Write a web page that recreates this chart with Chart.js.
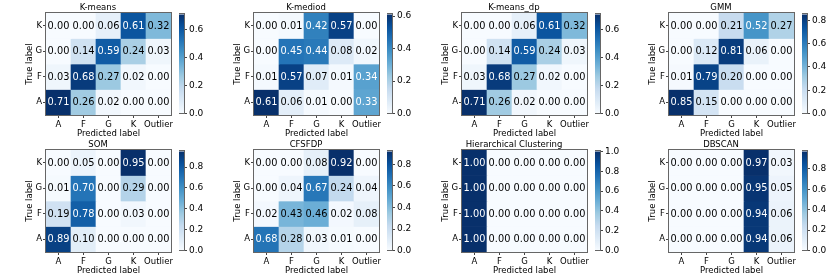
<!DOCTYPE html>
<html>
<head>
<meta charset="utf-8">
<script src="https://cdn.jsdelivr.net/npm/chart.js@4"></script>
<style>
  body { margin: 0; background: #fff; }
  #wrap { position: relative; width: 834px; height: 278px; overflow: hidden; }
  canvas { position: absolute; }
</style>
</head>
<body>
<div id="wrap"></div>
<script>
// confusion matrices, rows = true label (K, G, F, A top to bottom), cols = predicted label
const predLabels = ["A", "F", "G", "K", "Outlier"];
const trueLabels = ["K", "G", "F", "A"];
const titles = ["K-means", "K-mediod", "K-means_dp", "GMM", "SOM", "CFSFDP", "Hierarchical Clustering", "DBSCAN"];

const kmeans = [
    [0.00, 0.00, 0.06, 0.61, 0.32],
    [0.00, 0.14, 0.59, 0.24, 0.03],
    [0.03, 0.68, 0.27, 0.02, 0.00],
    [0.71, 0.26, 0.02, 0.00, 0.00]
];
const kmediod = [
    [0.00, 0.01, 0.42, 0.57, 0.00],
    [0.00, 0.45, 0.44, 0.08, 0.02],
    [0.01, 0.57, 0.07, 0.01, 0.34],
    [0.61, 0.06, 0.01, 0.00, 0.33]
];
const kmeansDp = [
    [0.00, 0.00, 0.06, 0.61, 0.32],
    [0.00, 0.14, 0.59, 0.24, 0.03],
    [0.03, 0.68, 0.27, 0.02, 0.00],
    [0.71, 0.26, 0.02, 0.00, 0.00]
];
const gmm = [
    [0.00, 0.00, 0.21, 0.52, 0.27],
    [0.00, 0.12, 0.81, 0.06, 0.00],
    [0.01, 0.79, 0.20, 0.00, 0.00],
    [0.85, 0.15, 0.00, 0.00, 0.00]
];
const som = [
    [0.00, 0.05, 0.00, 0.95, 0.00],
    [0.01, 0.70, 0.00, 0.29, 0.00],
    [0.19, 0.78, 0.00, 0.03, 0.00],
    [0.89, 0.10, 0.00, 0.00, 0.00]
];
const cfsfdp = [
    [0.00, 0.00, 0.08, 0.92, 0.00],
    [0.00, 0.04, 0.67, 0.24, 0.04],
    [0.02, 0.43, 0.46, 0.02, 0.08],
    [0.68, 0.28, 0.03, 0.01, 0.00]
];
const hierarchical = [
    [1.00, 0.00, 0.00, 0.00, 0.00],
    [1.00, 0.00, 0.00, 0.00, 0.00],
    [1.00, 0.00, 0.00, 0.00, 0.00],
    [1.00, 0.00, 0.00, 0.00, 0.00]
];
const dbscan = [
    [0.00, 0.00, 0.00, 0.97, 0.03],
    [0.00, 0.00, 0.00, 0.95, 0.05],
    [0.00, 0.00, 0.00, 0.94, 0.06],
    [0.00, 0.00, 0.00, 0.94, 0.06]
];
const matrices = [kmeans, kmediod, kmeansDp, gmm, som, cfsfdp, hierarchical, dbscan];

// colorbar tick labels per panel
const cbTicks = [
    [0, 0.2, 0.4, 0.6],
    [0, 0.2, 0.4, 0.6],
    [0, 0.2, 0.4, 0.6],
    [0, 0.2, 0.4, 0.6, 0.8],
    [0, 0.2, 0.4, 0.6, 0.8],
    [0, 0.2, 0.4, 0.6, 0.8],
    [0, 0.2, 0.4, 0.6, 0.8, 1.0],
    [0, 0.2, 0.4, 0.6, 0.8]
];

// layout
const heatLeft = [46, 254, 462, 669];
const heatTop = [13, 150];
const heatW = 125, heatH = 102;
const yAxisW = 21, xAxisH = 24, titleH = 13;
const FONT = "'DejaVu Sans', sans-serif";
const FRAME = "#666";

// matplotlib "Blues"
const BLUES = ["#f7fbff", "#deebf7", "#c6dbef", "#9ecae1", "#6baed6", "#4292c6", "#2171b5", "#08519c", "#08306b"];

function hexRgb(h) {
    return [1, 3, 5].map(i => parseInt(h.substr(i, 2), 16));
}

function blues(t) {
    t = Math.max(0, Math.min(1, t));
    const s = t * (BLUES.length - 1);
    const i = Math.min(Math.floor(s), BLUES.length - 2);
    const f = s - i;
    const a = hexRgb(BLUES[i]), b = hexRgb(BLUES[i + 1]);
    const c = a.map((v, k) => Math.round(v + (b[k] - v) * f));
    return "rgb(" + c.join(",") + ")";
}

const cellText = {
    id: "cellText",
    afterDatasetsDraw(chart) {
        const ctx = chart.ctx;
        ctx.save();
        ctx.font = "9.8px " + FONT;
        ctx.textAlign = "center";
        ctx.textBaseline = "middle";
        chart.data.datasets.forEach((ds, i) => {
            chart.getDatasetMeta(i).data.forEach((el, j) => {
                const p = el.getCenterPoint();
                const v = ds.values[j];
                ctx.fillStyle = v > ds.vmax / 2 ? "#fff" : "#000";
                ctx.fillText(v.toFixed(2), p.x, p.y + 0.5);
            });
        });
        ctx.restore();
    }
};

const frame = {
    id: "frame",
    afterDraw(chart) {
        const a = chart.chartArea;
        const ctx = chart.ctx;
        ctx.save();
        ctx.strokeStyle = FRAME;
        ctx.lineWidth = 1;
        ctx.strokeRect(Math.round(a.left) - 0.5, Math.round(a.top) - 0.5,
            Math.round(a.right - a.left) + 1, Math.round(a.bottom - a.top) + 1);
        ctx.restore();
    }
};

function makeCanvas(x, y, w, h) {
    const c = document.createElement("canvas");
    c.width = w;
    c.height = h;
    c.style.left = x + "px";
    c.style.top = y + "px";
    document.getElementById("wrap").appendChild(c);
    return c.getContext("2d");
}

function drawHeatmap(k) {
    const col = k % 4, row = Math.floor(k / 4);
    const m = matrices[k];
    const vmax = Math.max(...m.flat());
    const x0 = heatLeft[col] - yAxisW, y0 = heatTop[row] - titleH;
    const ctx = makeCanvas(x0, y0, yAxisW + heatW + yAxisW, titleH + heatH + xAxisH);

    const datasets = m.map((vals, i) => ({
        data: vals.map(() => [i, i + 1]),
        values: vals,
        vmax: vmax,
        backgroundColor: vals.map(v => blues(v / vmax)),
        borderWidth: 0,
        grouped: false,
        barPercentage: 1,
        categoryPercentage: 1
    }));

    new Chart(ctx, {
        type: "bar",
        data: { labels: predLabels, datasets: datasets },
        options: {
            responsive: false,
            animation: false,
            layout: { padding: { left: 0, right: yAxisW, top: 0, bottom: 0 } },
            plugins: {
                legend: { display: false },
                tooltip: { enabled: false },
                title: {
                    display: true,
                    text: titles[k],
                    color: "#000",
                    font: { family: FONT, size: 8.5, weight: "normal" },
                    padding: { top: 2.2, bottom: 0.6 }
                }
            },
            scales: {
                x: {
                    type: "category",
                    afterFit: s => { s.height = xAxisH; },
                    border: { display: false },
                    grid: { offset: false, drawOnChartArea: false, drawTicks: true, tickLength: 3, color: "#444" },
                    ticks: { color: "#000", padding: 1.5, maxRotation: 0, autoSkip: false, font: { family: FONT, size: 8.5 } },
                    title: { display: true, text: "Predicted label", color: "#000", padding: { top: 0, bottom: 0 }, font: { family: FONT, size: 8.5 } }
                },
                y: {
                    type: "linear",
                    min: 0,
                    max: trueLabels.length,
                    reverse: true,
                    afterFit: s => { s.width = yAxisW; },
                    afterBuildTicks: s => { s.ticks = trueLabels.map((_, i) => ({ value: i + 0.5 })); },
                    border: { display: false },
                    grid: { drawOnChartArea: false, drawTicks: true, tickLength: 3, color: "#444" },
                    ticks: { color: "#000", padding: 1, font: { family: FONT, size: 8.5 }, callback: (v, i) => trueLabels[i] },
                    title: { display: true, text: "True label", color: "#000", padding: { top: 0, bottom: 0 }, font: { family: FONT, size: 8.5 } }
                }
            }
        },
        plugins: [cellText, frame]
    });

    drawColorbar(k, vmax, heatLeft[col] + heatW + 8, heatTop[row]);
}

function drawColorbar(k, vmax, x, y) {
    const pad = 6, barW = 5, axisW = 36;
    const ctx = makeCanvas(x, y - pad, barW + axisW, heatH + pad * 2);
    const ticks = cbTicks[k];

    new Chart(ctx, {
        type: "bar",
        data: {
            labels: [""],
            datasets: [{
                data: [[0, vmax]],
                borderWidth: 0,
                barPercentage: 1,
                categoryPercentage: 1,
                backgroundColor: c => {
                    const ch = c.chart;
                    if (!ch.chartArea) return BLUES[0];
                    const ys = ch.scales.y;
                    const g = ch.ctx.createLinearGradient(0, ys.getPixelForValue(0), 0, ys.getPixelForValue(vmax));
                    BLUES.forEach((col, i) => g.addColorStop(i / (BLUES.length - 1), col));
                    return g;
                }
            }]
        },
        options: {
            responsive: false,
            animation: false,
            layout: { padding: { left: 0, right: 0, top: pad, bottom: pad } },
            plugins: { legend: { display: false }, tooltip: { enabled: false } },
            scales: {
                x: { display: false },
                y: {
                    position: "right",
                    min: 0,
                    max: vmax,
                    afterFit: s => { s.width = axisW; },
                    afterBuildTicks: s => { s.ticks = ticks.map(v => ({ value: v })); },
                    border: { display: false },
                    grid: { drawOnChartArea: false, drawTicks: true, tickLength: 3, color: "#444" },
                    ticks: { color: "#000", padding: 2, font: { family: FONT, size: 9 }, callback: v => v.toFixed(1) }
                }
            }
        },
        plugins: [frame]
    });
}

matrices.forEach((m, k) => drawHeatmap(k));
</script>
</body>
</html>
